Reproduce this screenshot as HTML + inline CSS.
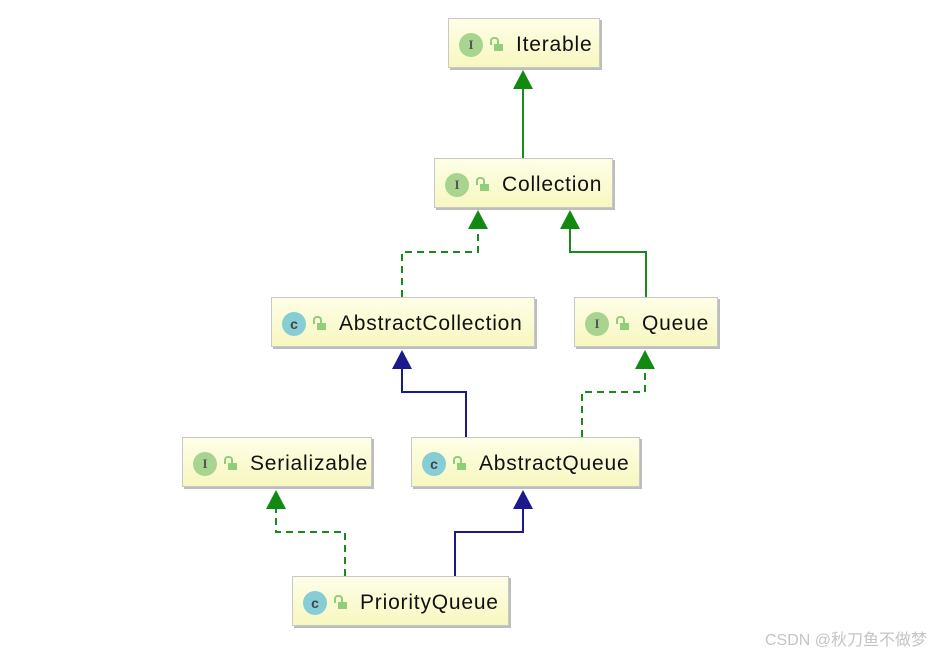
<!DOCTYPE html>
<html><head><meta charset="utf-8"><style>
body{margin:0;width:940px;height:652px;background:#fff;position:relative;overflow:hidden;font-family:"Liberation Sans",sans-serif}
.b{position:absolute;height:50px;box-sizing:border-box;border:1px solid #c8c8c8;background:linear-gradient(#fefee8,#f7f7c0);box-shadow:2px 2px 0 #bdbdbd;display:flex;align-items:center;padding-left:10px;padding-top:3px;font-size:21px;color:#111;letter-spacing:0.8px}
.i{width:24px;height:24px;border-radius:50%;background:#a8d490;color:#555;font:bold 13px "Liberation Serif",serif;display:flex;align-items:center;justify-content:center;margin-right:11px;letter-spacing:0}
.c{background:#86cdd6;color:#444;font:bold 14px "Liberation Sans",sans-serif}
.l{width:9px;height:7px;background:#8fcf7a;position:relative;margin-right:13px;margin-top:5px}
.l:before{content:"";position:absolute;left:-4px;top:-7px;width:5px;height:6px;border:2px solid #8fcf7a;border-bottom:none;border-radius:4px 4px 0 0}
svg{position:absolute;left:0;top:0}
.w{position:absolute;left:765px;top:626px;font-size:16px;color:#c4c4c4;font-family:"Liberation Sans","Noto Sans CJK SC",sans-serif}
</style></head><body>
<svg width="940" height="652">
<g fill="none" stroke-width="2">
<path d="M523 158V86" stroke="#1a8a1a"/>
<path d="M402 297V252H478V226" stroke="#1a8a1a" stroke-dasharray="7,5"/>
<path d="M646 297V252H570V226" stroke="#1a8a1a"/>
<path d="M466 437V392H402V366" stroke="#1a1a8a"/>
<path d="M582 437V392H645V366" stroke="#1a8a1a" stroke-dasharray="7,5"/>
<path d="M345 576V532H276V506" stroke="#1a8a1a" stroke-dasharray="7,5"/>
<path d="M455 576V532H523V506" stroke="#1a1a8a"/>
</g>
<g fill="#128a12">
<path d="M523 70L513 89H533Z"/><path d="M478 210L468 229H488Z"/><path d="M570 210L560 229H580Z"/>
<path d="M645 350L635 369H655Z"/><path d="M276 490L266 509H286Z"/>
</g>
<g fill="#1a1a8a"><path d="M402 350L392 369H412Z"/><path d="M523 490L513 509H533Z"/></g>
</svg>
<div class="b" style="left:448px;top:18px;width:152px"><span class="i">I</span><span class="l"></span>Iterable</div>
<div class="b" style="left:434px;top:158px;width:179px"><span class="i">I</span><span class="l"></span>Collection</div>
<div class="b" style="left:271px;top:297px;width:264px"><span class="i c">c</span><span class="l"></span>AbstractCollection</div>
<div class="b" style="left:574px;top:297px;width:144px"><span class="i">I</span><span class="l"></span>Queue</div>
<div class="b" style="left:182px;top:437px;width:190px"><span class="i">I</span><span class="l"></span>Serializable</div>
<div class="b" style="left:411px;top:437px;width:229px"><span class="i c">c</span><span class="l"></span>AbstractQueue</div>
<div class="b" style="left:292px;top:576px;width:217px"><span class="i c">c</span><span class="l"></span>PriorityQueue</div>
<div class="w">CSDN @秋刀鱼不做梦</div>
</body></html>
